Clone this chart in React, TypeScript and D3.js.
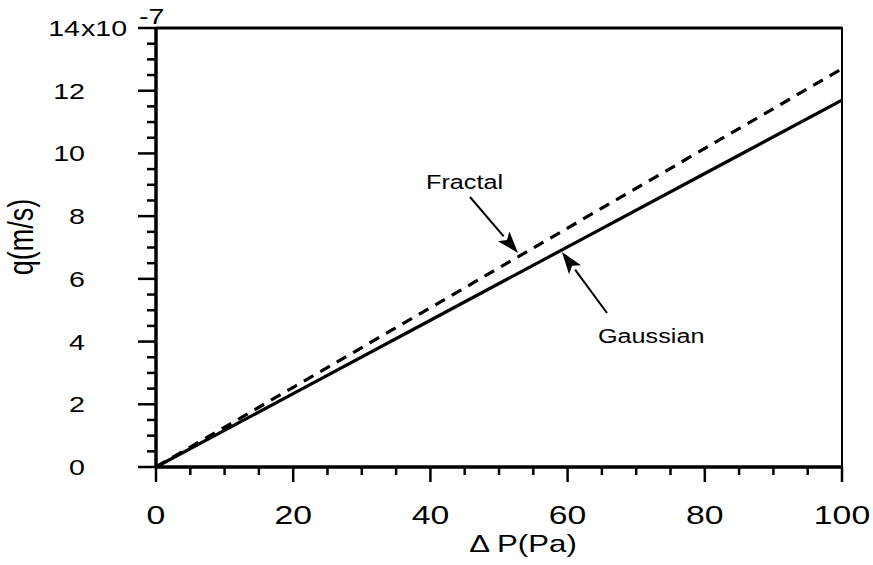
import React from "react";
import * as d3 from "d3";

// pressure drop (Pa) vs flow rate q (x1e-7 m/s)
const deltaP = [0, 20, 40, 60, 80, 100];
const gaussian = [0, 2.34, 4.68, 7.02, 9.36, 11.7];
const fractal = [0, 2.54, 5.08, 7.62, 10.16, 12.7];

const xTicks = [0, 20, 40, 60, 80, 100];
const yTicks = [0, 2, 4, 6, 8, 10, 12, 14];

const W = 873;
const H = 565;
const FONT = "'Liberation Sans', Arial, Helvetica, sans-serif";
const SX = 1.3; // the scan is stretched horizontally

export default function App() {
    const x = d3.scaleLinear().domain([0, 100]).range([156, 842]);
    const y = d3.scaleLinear().domain([0, 14]).range([467, 28]);

    const line = d3
        .line<number>()
        .x((d, i) => x(deltaP[i]))
        .y((d) => y(d));

    const xMinor = d3.range(0, 100.1, 5).filter((v) => !xTicks.includes(v));
    const yMinor = d3.range(0, 14.01, 0.5).filter((v) => !yTicks.includes(v));

    const arrow = (x1: number, y1: number, x2: number, y2: number) => {
        const a = Math.atan2(y2 - y1, x2 - x1);
        const len = 22;
        const half = 7.5;
        const bx = x2 - len * Math.cos(a);
        const by = y2 - len * Math.sin(a);
        const p1 = [bx + half * Math.sin(a), by - half * Math.cos(a)];
        const p2 = [bx - half * Math.sin(a), by + half * Math.cos(a)];
        return (
            <g>
                <line x1={x1} y1={y1} x2={bx} y2={by} stroke="#000" strokeWidth={2} />
                <path d={`M${x2},${y2}L${p1[0]},${p1[1]}L${bx + 5 * Math.cos(a)},${by + 5 * Math.sin(a)}L${p2[0]},${p2[1]}Z`} fill="#000" />
            </g>
        );
    };

    return (
        <svg width={W} height={H} style={{ position: "absolute", left: 0, top: 0, background: "#fff" }} fontFamily={FONT}>
            {/* data */}
            <path d={line(gaussian) || ""} fill="none" stroke="#000" strokeWidth={3.2} />
            <path d={line(fractal) || ""} fill="none" stroke="#000" strokeWidth={3.2} strokeDasharray="11 8" />

            {/* frame */}
            <rect x={x(0)} y={y(14)} width={x(100) - x(0)} height={y(0) - y(14)} fill="none" stroke="#000" strokeWidth={2} />
            <line x1={x(0)} x2={x(100)} y1={y(0)} y2={y(0)} stroke="#000" strokeWidth={3.5} />
            <line x1={x(0)} x2={x(0)} y1={y(0)} y2={y(14)} stroke="#000" strokeWidth={3.5} />
            <line x1={x(0)} x2={x(100)} y1={y(14)} y2={y(14)} stroke="#000" strokeWidth={3} />

            {/* x axis ticks */}
            {xTicks.map((t) => (
                <g key={"xt" + t}>
                    <line x1={x(t)} x2={x(t)} y1={y(0)} y2={y(0) + 15} stroke="#000" strokeWidth={2.5} />
                    <text transform={`translate(${x(t)},524) scale(1.35,1)`} textAnchor="middle" fontSize={25}>
                        {t}
                    </text>
                </g>
            ))}
            {xMinor.map((t) => (
                <line key={"xm" + t} x1={x(t)} x2={x(t)} y1={y(0)} y2={y(0) + 8} stroke="#000" strokeWidth={2.5} />
            ))}

            {/* y axis ticks */}
            {yTicks.map((t) => (
                <g key={"yt" + t}>
                    <line x1={x(0) - 18} x2={x(0)} y1={y(t)} y2={y(t)} stroke="#000" strokeWidth={2.5} />
                    <text transform={`translate(${t === 14 ? 80 : 85},${y(t) + 8}) scale(${SX},1)`} textAnchor="end" fontSize={22}>
                        {t}
                    </text>
                </g>
            ))}
            {yMinor.map((t) => (
                <line key={"ym" + t} x1={x(0) - 9} x2={x(0)} y1={y(t)} y2={y(t)} stroke="#000" strokeWidth={2.5} />
            ))}
            <text transform={`translate(81,${y(14) + 8}) scale(${SX},1)`} fontSize={22}>
                x10
            </text>
            <text transform={`translate(139,24) scale(${SX},1)`} fontSize={22}>
                -7
            </text>

            {/* axis titles */}
            <text transform={`translate(523,552) scale(${SX},1)`} textAnchor="middle" fontSize={24}>
                Δ P(Pa)
            </text>
            <text transform={`translate(33,237) rotate(-90) scale(1,${SX})`} textAnchor="middle" fontSize={27}>
                q(m/s)
            </text>

            {/* annotations */}
            <text transform={`translate(426,189) scale(1.2,1)`} fontSize={21}>
                Fractal
            </text>
            {arrow(470, 197, 518, 253)}
            <text transform={`translate(598,343) scale(1.2,1)`} fontSize={21}>
                Gaussian
            </text>
            {arrow(607, 313, 562, 252)}
        </svg>
    );
}
